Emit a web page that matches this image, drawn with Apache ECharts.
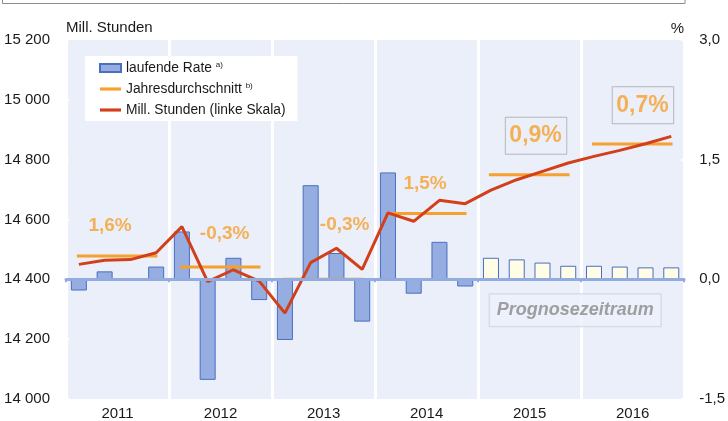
<!DOCTYPE html>
<html>
<head>
<meta charset="utf-8">
<script src="https://cdn.jsdelivr.net/npm/echarts@6/dist/echarts.min.js"></script>
<style>
    html, body { margin: 0; padding: 0; background: #fff; }
    #chart { width: 728px; height: 421px; }
</style>
</head>
<body>
<div id="chart"></div>
<script>
// Jahre und Quartale
var years = ["2011", "2012", "2013", "2014", "2015", "2016"];
var quarters = [];
years.forEach(function (y) {
    ["Q1", "Q2", "Q3", "Q4"].forEach(function (q) { quarters.push(y + " " + q); });
});

// laufende Rate in % (rechte Skala), ab Index 16 Prognose
var rateValues = [-0.14, 0.10, 0.01, 0.16,
                  0.60, -1.26, 0.27, -0.26,
                  -0.76, 1.18, 0.33, -0.53,
                  1.34, -0.18, 0.47, -0.09,
                  0.27, 0.25, 0.21, 0.17,
                  0.17, 0.16, 0.15, 0.15];
var forecastFrom = 16;

// Mill. Stunden (linke Skala)
var hoursValues = [14450, 14464, 14466, 14489,
                   14576, 14392, 14432, 14394,
                   14287, 14456, 14504, 14433,
                   14622, 14594, 14664, 14653,
                   14698, 14733, 14761, 14789,
                   14811, 14831, 14853, 14878];

// Jahresdurchschnitt (linke Skala) und Veraenderung
var annualAverage = [14478, 14441, 14400, 14620, 14750, 14852];
var annualChange = ["1,6%", "-0,3%", "-0,3%", "1,5%", "0,9%", "0,7%"];
var changeAnchorX = [1.71, 6.16, 10.82, 13.94, 18.25, 22.4];
var changeAnchorY = [14580, 14553, 14583, 14720, 14880, 14982];

var ORANGE = "#F6A02D";
var RED = "#D2401A";
var FONT = "Liberation Sans";

var chart = echarts.init(document.getElementById("chart"));

var series = [];

// Balken: laufende Rate
series.push({
    name: "laufende Rate",
    type: "bar",
    xAxisIndex: 0,
    yAxisIndex: 1,
    barWidth: 16,
    z: 2,
    itemStyle: { color: "#95ADE0", borderColor: "#4A6FC0", borderWidth: 1 },
    data: rateValues.map(function (v, i) {
        if (i >= forecastFrom) {
            return { value: v, itemStyle: { color: "#FFFDE6", borderColor: "#4A6FC0" } };
        }
        return v;
    }),
    markLine: {
        silent: true,
        symbol: "none",
        label: { show: false },
        lineStyle: { color: "#93ACDF", width: 3, type: "solid" },
        data: [{ yAxis: 0 }]
    }
});

// Jahresdurchschnitt als kurze Linie je Jahr
annualAverage.forEach(function (v, i) {
    series.push({
        name: "Jahresdurchschnitt",
        type: "line",
        xAxisIndex: 2,
        yAxisIndex: 0,
        symbol: "none",
        z: 3,
        itemStyle: { color: ORANGE },
        lineStyle: { color: ORANGE, width: 3 },
        data: [[i * 4 + 0.42, v], [i * 4 + 3.55, v]]
    });
});

// Mill. Stunden
series.push({
    name: "Mill. Stunden (linke Skala)",
    type: "line",
    xAxisIndex: 0,
    yAxisIndex: 0,
    symbol: "none",
    z: 4,
    itemStyle: { color: RED },
    lineStyle: { color: RED, width: 3 },
    data: hoursValues
});

// Beschriftung der Jahresveraenderung
series.push({
    type: "scatter",
    xAxisIndex: 2,
    yAxisIndex: 0,
    symbolSize: 0.1,
    silent: true,
    z: 5,
    itemStyle: { color: "transparent" },
    data: annualChange.map(function (t, i) {
        var boxed = i >= 4;
        return {
            value: [changeAnchorX[i], changeAnchorY[i]],
            label: {
                show: true,
                position: "inside",
                formatter: t,
                color: ORANGE,
                fontFamily: FONT,
                fontWeight: "bold",
                fontSize: boxed ? 23 : 19,
                borderColor: boxed ? "#A9A9A9" : "transparent",
                borderWidth: boxed ? 1 : 0,
                padding: boxed ? [7, 5, 7, 4] : 0
            }
        };
    })
});

// Prognosezeitraum
series.push({
    type: "scatter",
    xAxisIndex: 2,
    yAxisIndex: 0,
    symbolSize: 0.1,
    silent: true,
    z: 5,
    itemStyle: { color: "transparent" },
    data: [{
        value: [19.77, 14297],
        label: {
            show: true,
            position: "inside",
            formatter: "Prognosezeitraum",
            color: "#8A8A8A",
            fontFamily: FONT,
            fontWeight: "bold",
            fontStyle: "italic",
            fontSize: 18,
            backgroundColor: "#EEF1FB",
            borderColor: "#CDD0DA",
            borderWidth: 1,
            padding: [7, 7, 7, 7]
        }
    }]
});

var option = {
    animation: false,
    textStyle: { fontFamily: FONT },
    grid: {
        left: 66, right: 39, top: 40, bottom: 21,
        show: true, backgroundColor: "#EBEFFA", borderWidth: 0
    },
    legend: {
        orient: "vertical",
        left: 85,
        top: 56,
        backgroundColor: "#fff",
        padding: [5, 12, 4, 14],
        itemGap: 7,
        itemWidth: 21,
        itemHeight: 8,
        textStyle: {
            fontFamily: FONT, fontSize: 13.8, color: "#1a1a1a",
            rich: { sup: { fontSize: 8, verticalAlign: "top", padding: [0, 0, 5, 0] } }
        },
        formatter: function (name) {
            if (name === "laufende Rate") return name + " {sup|a)}";
            if (name === "Jahresdurchschnitt") return name + " {sup|b)}";
            return name;
        },
        data: [
            { name: "laufende Rate", icon: "rect" },
            { name: "Jahresdurchschnitt", icon: "path://M0,0 h20 v3 h-20 z" },
            { name: "Mill. Stunden (linke Skala)", icon: "path://M0,0 h20 v3 h-20 z" }
        ]
    },
    xAxis: [
        {
            // Quartale, Nulllinie der rechten Skala
            type: "category",
            data: quarters,
            axisLine: { show: true, onZero: true, onZeroAxisIndex: 1, lineStyle: { color: "#93ACDF", width: 3 } },
            axisTick: {
                show: true, length: 3,
                interval: function (i) { return i % 4 === 0; },
                lineStyle: { color: "#93ACDF", width: 2 }
            },
            axisLabel: { show: false },
            splitLine: { show: false }
        },
        {
            // Jahresbeschriftung und Trennlinien
            type: "category",
            data: years,
            position: "bottom",
            axisLine: { show: false },
            axisTick: { show: false },
            axisLabel: { fontFamily: FONT, fontSize: 15, color: "#1a1a1a", margin: 7 },
            splitLine: { show: true, interval: 0, lineStyle: { color: "#fff", width: 3 } }
        },
        {
            type: "value",
            min: 0,
            max: 24,
            show: false
        }
    ],
    yAxis: [
        {
            type: "value",
            min: 14000,
            max: 15200,
            interval: 200,
            name: "Mill. Stunden",
            nameGap: 5,
            nameTextStyle: { fontFamily: FONT, fontSize: 15, color: "#1a1a1a", align: "left" },
            axisLine: { show: false },
            axisTick: { show: true, inside: true, length: 3, lineStyle: { color: "#fff", width: 2 } },
            splitLine: { show: false },
            axisLabel: {
                fontFamily: FONT, fontSize: 15, color: "#1a1a1a", margin: 16,
                formatter: function (v) {
                    var s = String(v);
                    return s.slice(0, s.length - 3) + " " + s.slice(-3);
                }
            }
        },
        {
            type: "value",
            min: -1.5,
            max: 3,
            interval: 1.5,
            position: "right",
            name: "%",
            nameGap: 4,
            nameTextStyle: { fontFamily: FONT, fontSize: 15, color: "#1a1a1a", align: "right" },
            axisLine: { show: false },
            axisTick: { show: true, inside: true, length: 3, lineStyle: { color: "#fff", width: 2 } },
            splitLine: { show: false },
            axisLabel: {
                fontFamily: FONT, fontSize: 15, color: "#1a1a1a", margin: 15,
                formatter: function (v) { return v.toFixed(1).replace(".", ","); }
            }
        }
    ],
    graphic: [
        {
            type: "polyline",
            silent: true,
            shape: { points: [[2.5, 0], [2.5, 3.5], [685, 3.5], [685, 0]] },
            style: { stroke: "#8C8C8C", lineWidth: 1, fill: null }
        }
    ],
    series: series
};

chart.setOption(option);
</script>
</body>
</html>
